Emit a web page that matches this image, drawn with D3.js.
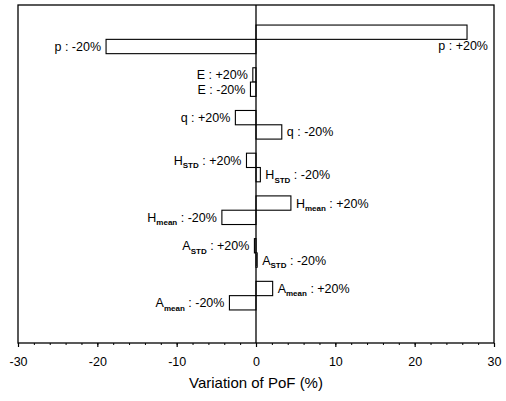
<!DOCTYPE html>
<html>
<head>
<meta charset="utf-8">
<script src="https://cdn.jsdelivr.net/npm/d3@7"></script>
<style>
  body { margin: 0; background: #fff; }
  text { font-family: "Liberation Sans", Arial, sans-serif; fill: #000; }
</style>
</head>
<body>
<div class="vis-holder"></div>
<script>
// parameters and their sub-labels
var groupBase = ['p', 'E', 'q', 'H', 'H', 'A', 'A'];
var groupSub  = ['', '', '', 'STD', 'mean', 'STD', 'mean'];
var groups = ['p', 'E', 'q', 'HSTD', 'Hmean', 'ASTD', 'Amean'];
var changes = ['+20%', '-20%'];

// variation of PoF (%) for +20% and -20% change of each parameter
var plusValues  = [26.6, -0.4, -2.6, -1.2, 4.4, -0.2, 2.1];
var minusValues = [-18.9, -0.7, 3.25, 0.55, -4.3, 0.15, -3.35];

var xTicks = [-30, -20, -10, 0, 10, 20, 30];
var xTitle = 'Variation of PoF (%)';

var width = 506;
var height = 401;
var margin = { top: 5, bottom: 58, left: 18, right: 12 };

var mydata = [];
groups.forEach(function(g, i) {
	mydata.push({ group: g, base: groupBase[i], sub: groupSub[i], change: changes[0], value: plusValues[i] });
	mydata.push({ group: g, base: groupBase[i], sub: groupSub[i], change: changes[1], value: minusValues[i] });
});

var svg = d3.select('div.vis-holder')
			.append('svg')
			.attr('width', width)
			.attr('height', height)
			.style('background', '#fff');

var xScale = d3.scaleLinear()
			   .domain([-30, 30])
			   .range([margin.left, width - margin.right]);

var plotBottom = height - margin.bottom;

var yGroup = d3.scaleBand()
			   .domain(groups)
			   .range([margin.top + 13, plotBottom - 26])
			   .paddingInner(0.33)
			   .paddingOuter(0.165);

var ySub = d3.scaleBand()
			 .domain(changes)
			 .range([0, yGroup.bandwidth()]);

// minor ticks
svg.append('g')
   .attr('transform', `translate(0, ${plotBottom})`)
   .call(d3.axisBottom(xScale).ticks(30).tickSize(2).tickFormat(''))
   .call(g => g.select('.domain').remove())
   .selectAll('line').attr('stroke-width', 1);

// major ticks
var xAxis = svg.append('g')
			   .attr('transform', `translate(0, ${plotBottom})`)
			   .call(d3.axisBottom(xScale)
			   		.tickValues(xTicks)
			   		.tickFormat(d => String(d))
			   		.tickSize(4)
			   		.tickSizeOuter(0)
			   		.tickPadding(10));
xAxis.select('.domain').remove();
xAxis.selectAll('line').attr('stroke-width', 1.2);
xAxis.selectAll('text')
	 .style('font-size', '12.5px')
	 .style('font-family', '"Liberation Sans", Arial, sans-serif');

// frame
svg.append('rect')
   .attr('x', margin.left)
   .attr('y', margin.top)
   .attr('width', width - margin.right - margin.left)
   .attr('height', plotBottom - margin.top)
   .attr('fill', 'none')
   .attr('stroke', '#000')
   .attr('stroke-width', 1.3);

// bars
var bars = svg.append('g')
			  .selectAll('rect')
			  .data(mydata)
			  .enter()
			  .append('rect')
			  .attr('x', d => Math.min(xScale(0), xScale(d.value)))
			  .attr('y', d => yGroup(d.group) + ySub(d.change))
			  .attr('width', d => Math.abs(xScale(d.value) - xScale(0)))
			  .attr('height', ySub.bandwidth())
			  .attr('fill', '#fff')
			  .attr('stroke', '#000')
			  .attr('stroke-width', 1.1);

// zero line
svg.append('line')
   .attr('x1', xScale(0)).attr('x2', xScale(0))
   .attr('y1', margin.top).attr('y2', plotBottom)
   .attr('stroke', '#000')
   .attr('stroke-width', 1.3);

// bar labels
var labels = svg.append('g')
				.selectAll('text')
				.data(mydata)
				.enter()
				.append('text')
				.style('font-size', '12.5px')
				.each(function(d) {
					var t = d3.select(this);
					var yMid = yGroup(d.group) + ySub(d.change) + ySub.bandwidth() / 2;
					var xEnd = xScale(d.value);
					var neg = d.value < 0;
					t.attr('text-anchor', neg ? 'end' : 'start')
					 .attr('x', neg ? xEnd - 5 : xEnd + 5)
					 .attr('y', yMid + 4.5);
					t.append('tspan').text(d.base);
					if (d.sub) {
						t.append('tspan').text(d.sub)
						 .attr('dy', 3.5)
						 .style('font-size', '8px')
						 .style('font-weight', 'bold');
						t.append('tspan').text(' : ' + d.change).attr('dy', -3.5);
					} else {
						t.append('tspan').text(' : ' + d.change);
					}
					// too long to fit at the right: put it below the bar
					var w = this.getComputedTextLength();
					if (!neg && xEnd + 5 + w > xScale.range()[1]) {
						t.attr('text-anchor', 'end')
						 .attr('x', xScale.range()[1] - 6)
						 .attr('y', yMid + ySub.bandwidth() / 2 + 11);
					}
				});

var xLabel = svg.append('text')
				.attr('text-anchor', 'middle')
				.attr('x', xScale(0))
				.attr('y', plotBottom + 45)
				.style('font-size', '15px')
				.text(xTitle);
</script>
</body>
</html>
